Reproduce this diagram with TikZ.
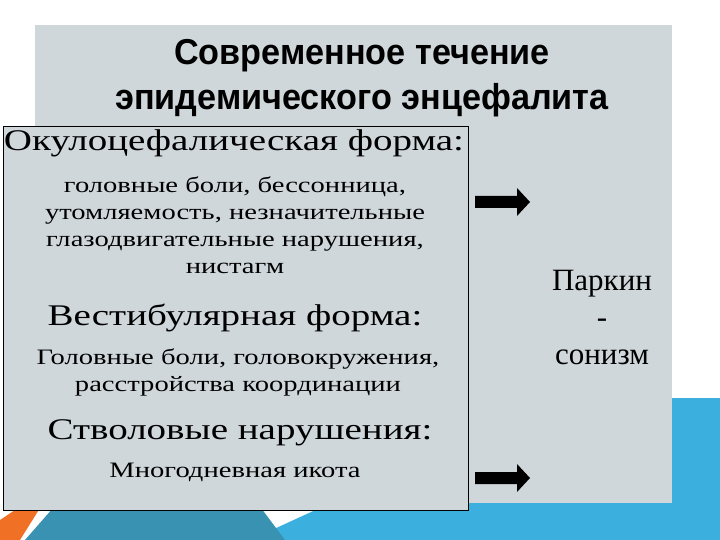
\documentclass[tikz,border=0pt]{standalone}
\usepackage{fontspec}
\setmainfont{Liberation Serif}
\newfontfamily\widefont[FakeStretch=1.3]{Liberation Serif}
\newfontfamily\titlefont[FakeStretch=0.95]{Liberation Sans}
\definecolor{panel}{RGB}{207,215,219}
\definecolor{lblue}{RGB}{59,176,222}
\definecolor{dteal}{RGB}{58,146,178}
\definecolor{orng}{RGB}{240,112,38}
\begin{document}
\begin{tikzpicture}[x=1pt,y=-1pt,
  body/.style={align=center,font=\widefont\fontsize{22}{27}\selectfont,inner sep=0pt},
  head/.style={font=\widefont\fontsize{30}{34}\selectfont,inner sep=0pt},
  blockarrow/.style={fill=black}]
\useasboundingbox (0,0) rectangle (720,540);
\fill[white] (0,0) rectangle (720,540);
\fill[lblue] (250,540) -- (560,398) -- (720,398) -- (720,540) -- cycle;
\fill[dteal] (25,540) -- (60,500) -- (255,500) -- (285,540) -- cycle;
\fill[orng] (0,540) -- (0,520) -- (30,500) -- (45,500) -- (20,540) -- cycle;
\fill[panel] (35,25) rectangle (672,503);
\node[font=\titlefont\bfseries\fontsize{36}{45}\selectfont, align=center] (title) at (362,78) {Современное течение\\эпидемического энцефалита};
\draw[fill=panel, line width=0.8pt] (3,126) rectangle (468,510);
\node[head] (h1) at (234,143) {Окулоцефалическая форма:};
\node[body] (b1) at (235,225) {головные боли, бессонница,\\утомляемость, незначительные\\глазодвигательные нарушения,\\нистагм};
\node[head] (h2) at (235,318) {Вестибулярная форма:};
\node[body] (b2) at (238,372) {Головные боли, головокружения,\\расстройства координации};
\node[head] (h3) at (240,433) {Стволовые нарушения:};
\node[body] (b3) at (235,472) {Многодневная икота};
\node[font=\fontsize{31}{37}\selectfont, align=center] (p) at (602,318) {Паркин\\-\\сонизм};
\fill[blockarrow] (475,196) -- (517,196) -- (517,188) -- (530,202) -- (517,216) -- (517,208) -- (475,208) -- cycle;
\fill[blockarrow] (475,472) -- (517,472) -- (517,464) -- (530,478) -- (517,492) -- (517,484) -- (475,484) -- cycle;
\end{tikzpicture}
\end{document}
